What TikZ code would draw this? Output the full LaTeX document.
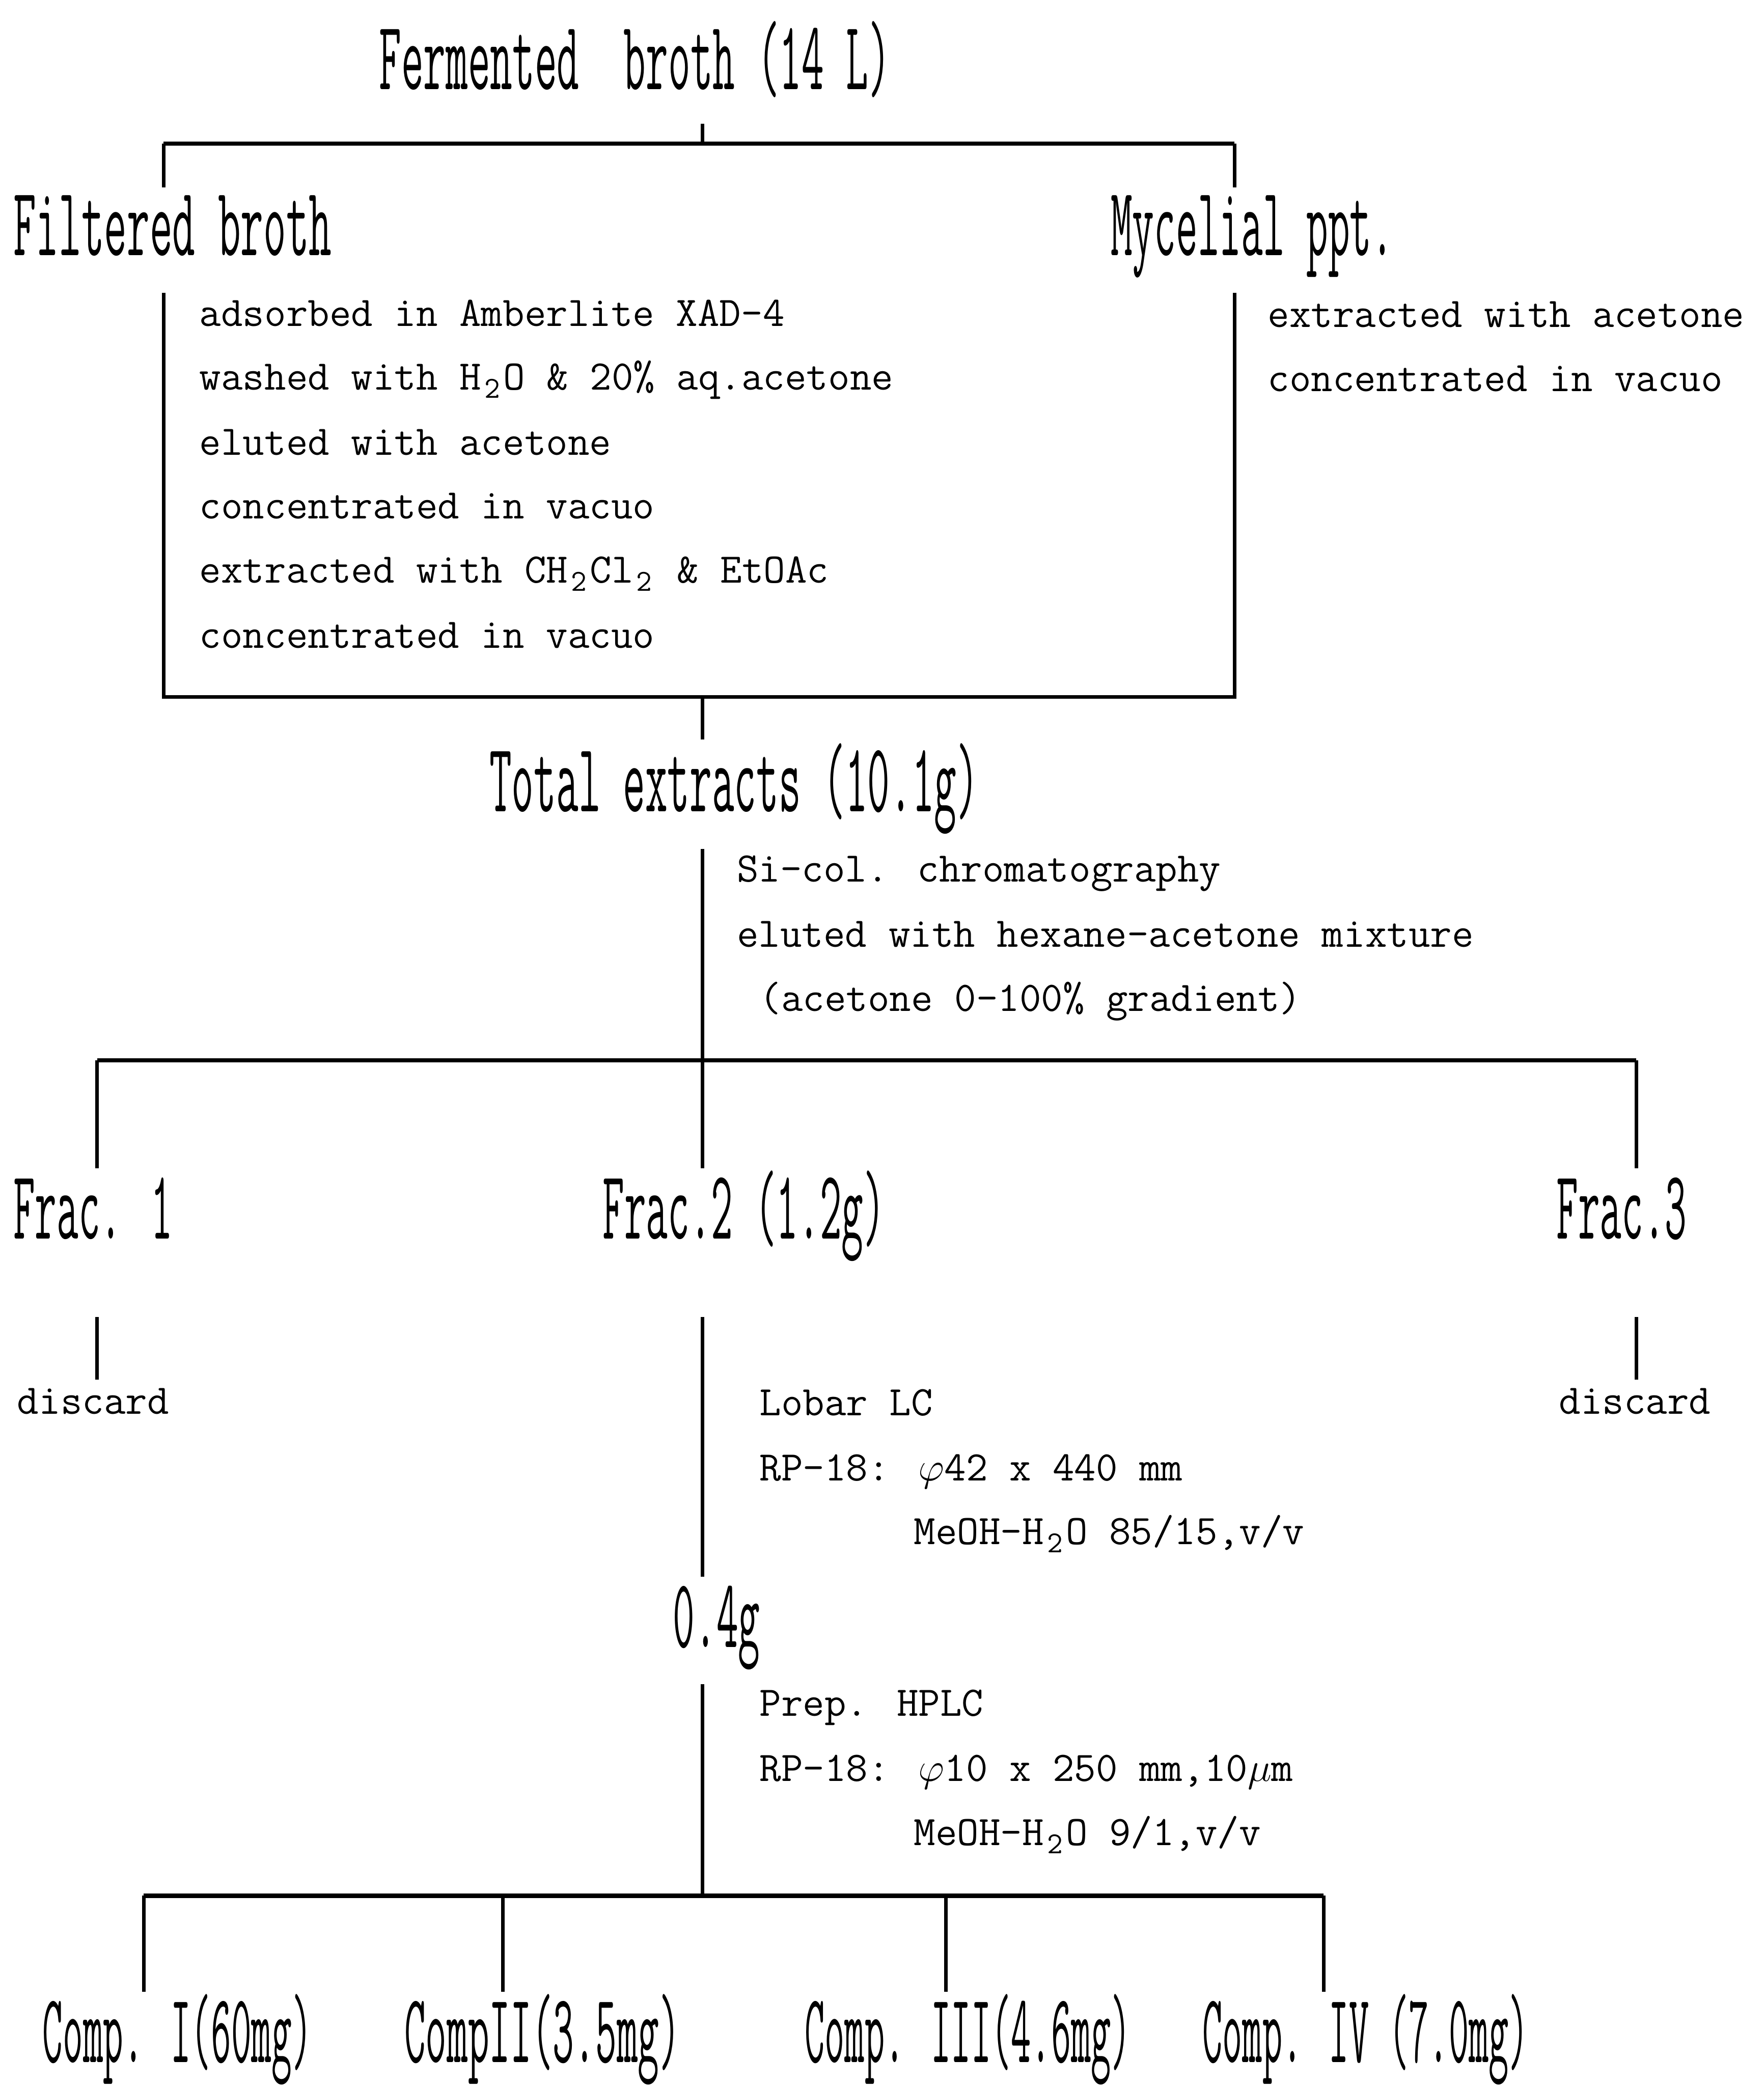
\documentclass[tikz,border=0pt]{standalone}
\usepackage{fontspec}
\usepackage{graphicx}
\usetikzlibrary{positioning}

% tall, narrow labels and a full-width subscript two
\newcommand{\bigtxt}[2][0.43]{\scalebox{#1}[1]{\fontsize{42}{48}\selectfont\ttfamily #2}}
\newcommand{\lowtwo}{\makebox[9.45pt]{\raisebox{-3.5pt}{\fontsize{13}{13}\selectfont 2}}}

\begin{document}
\begin{tikzpicture}[x=0.02cm, y=-0.02cm,
    every node/.style={inner sep=0pt, outer sep=0pt},
    head/.style={anchor=base west},
    note/.style={anchor=base west, font=\fontsize{18}{22}\selectfont\ttfamily},
    branch/.style={line width=1.5pt},
    bar/.style={line width=1.8pt}]
  \useasboundingbox (0,0) rectangle (1326,1568);

  % broth and first split
  \node (ferm) [head] at (285,67) {\bigtxt[0.44]{Fermented~ broth (14 L)}};
  \node (filt) [head] at (10,192) {\bigtxt[0.45]{Filtered broth}};
  \node (myc) [head] at (835,192) {\bigtxt{Mycelial ppt.}};
  \coordinate (t0) at (528,93);
  \coordinate (t1) at (528,108);
  \coordinate (tl) at (123,108);
  \coordinate (tr) at (928,108);
  \draw[branch] (t0) -- (t1);
  \draw[bar] (tl) -- (tr);
  \draw[branch] (tl) -- ++(0,33);
  \draw[branch] (tr) -- ++(0,33);

  % work-up of the filtrate
  \node (s1) [note] at (150,245) {adsorbed in Amberlite XAD-4};
  \node (s2) [note] at (150,293) {washed with H\lowtwo O \& 20\% aq.acetone};
  \node (s3) [note] at (150,342) {eluted with acetone};
  \node (s4) [note] at (150,390) {concentrated in vacuo};
  \node (s5) [note] at (150,438) {extracted with CH\lowtwo Cl\lowtwo\ \& EtOAc};
  \node (s6) [note] at (150,487) {concentrated in vacuo};
  \node (m1) [note] at (953,246) {extracted with acetone};
  \node (m2) [note] at (953,294) {concentrated in vacuo};
  \coordinate (bl) at (123,524);
  \coordinate (br) at (928,524);
  \draw[branch] (bl) ++(0,-304) -- (bl) -- (br) -- ++(0,-304);
  \draw[branch] (bl -| t1) -- ++(0,32);

  % silica column
  \node (total) [head] at (368,610) {\bigtxt[0.44]{Total extracts (10.1g)}};
  \node (c1) [note] at (554,663) {Si-col. chromatography};
  \node (c2) [note] at (554,712) {eluted with hexane-acetone mixture};
  \node (c3) [note] at (571,760) {(acetone 0-100\% gradient)};
  \coordinate (u0) at (528,638);
  \coordinate (u1) at (528,797);
  \coordinate (ul) at (73,797);
  \coordinate (ur) at (1230,797);
  \draw[branch] (u0) -- (u1) -- ++(0,81);
  \draw[bar] (ul) -- (ur);
  \draw[branch] (ul) -- ++(0,81);
  \draw[branch] (ur) -- ++(0,81);

  % fractions
  \node (frac1) [head] at (10,931) {\bigtxt{Frac. 1}};
  \node (frac2) [head] at (453,931) {\bigtxt{Frac.2 (1.2g)}};
  \node (frac3) [head] at (1170,931) {\bigtxt{Frac.3}};
  \node (d1) [note] at (13,1063) {discard};
  \node (d3) [note] at (1172,1063) {discard};
  \coordinate (v0) at (528,990);
  \draw[branch] (v0 -| ul) -- ++(0,47);
  \draw[branch] (v0 -| ur) -- ++(0,47);
  \draw[branch] (v0) -- ++(0,195);

  % lobar column
  \node (l1) [note] at (571,1064) {Lobar LC};
  \node (l2) [note] at (571,1113) {RP-18: $\varphi$42 x 440 mm};
  \node (l3) [note] at (687,1161) {MeOH-H\lowtwo O 85/15,v/v};
  \node (lobar) [head] at (506,1238) {\bigtxt{0.4g}};

  % prep. HPLC and compounds
  \node (p1) [note] at (571,1290) {Prep. HPLC};
  \node (p2) [note] at (571,1339) {RP-18: $\varphi$10 x 250 mm,10$\mu$m};
  \node (p3) [note] at (687,1387) {MeOH-H\lowtwo O 9/1,v/v};
  \coordinate (w0) at (528,1266);
  \coordinate (w1) at (528,1425);
  \draw[branch] (w0) -- (w1);
  \draw[bar] (108,1425) coordinate (wl) -- (995,1425) coordinate (wr);
  \foreach \x in {108,378,711,995}
    \draw[branch] (\x,1425) -- ++(0,72);
  \node (comp1) [head] at (32,1550) {\bigtxt[0.40]{Comp. I(60mg)}};
  \node (comp2) [head] at (304,1550) {\bigtxt[0.42]{CompII(3.5mg)}};
  \node (comp3) [head] at (605,1550) {\bigtxt[0.395]{Comp. III(4.6mg)}};
  \node (comp4) [head] at (904,1550) {\bigtxt[0.395]{Comp. IV (7.0mg)}};
\end{tikzpicture}
\end{document}
